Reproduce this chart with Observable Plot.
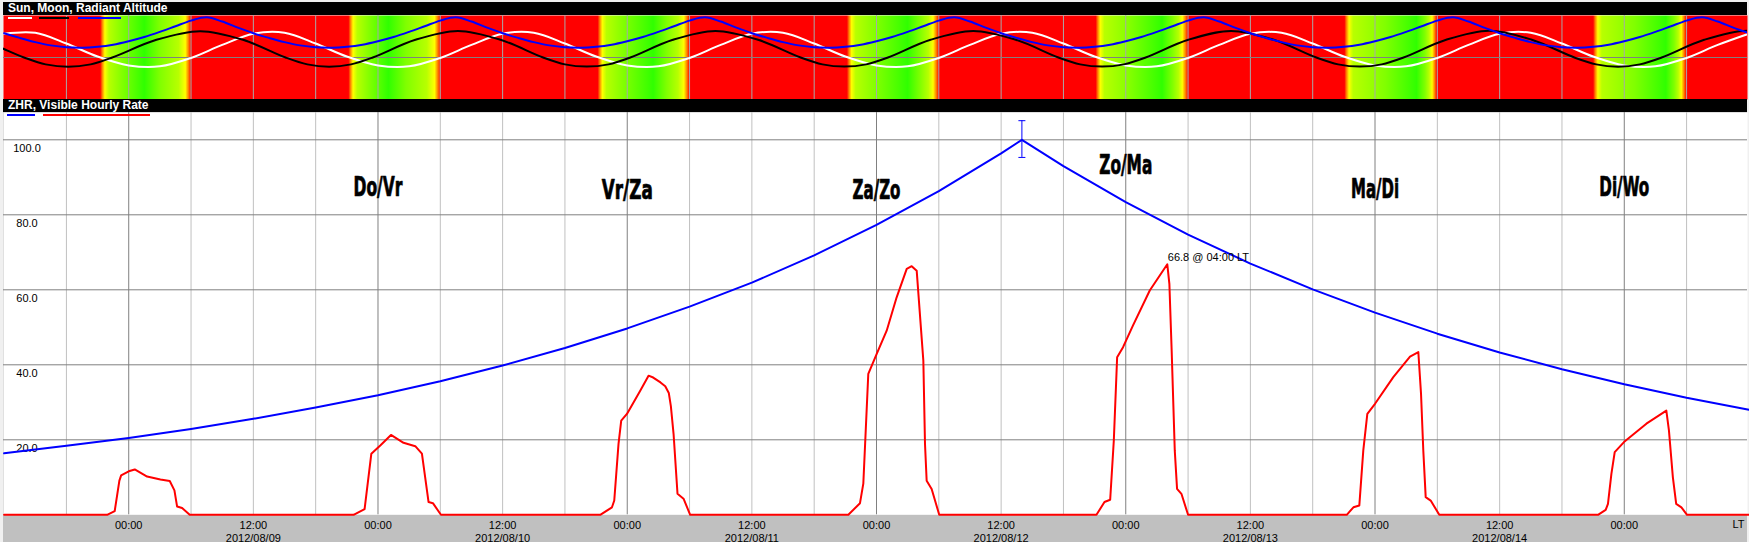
<!DOCTYPE html>
<html><head><meta charset="utf-8">
<script src="https://cdn.jsdelivr.net/npm/d3@7"></script>
<script src="https://cdn.jsdelivr.net/npm/@observablehq/plot@0.6"></script>
<style>
html,body{margin:0;padding:0;background:#f0f0f0;width:1749px;height:542px;overflow:hidden;font-family:"Liberation Sans",Arial,sans-serif;}
#wrap{position:absolute;left:3px;top:2px;width:1744px;height:540px;}
.bar{position:absolute;left:0;width:1744px;height:13px;background:#000;color:#fff;font-weight:bold;font-size:12px;line-height:13px;padding-left:5px;box-sizing:border-box;white-space:nowrap;}
.sw{position:absolute;height:2px;z-index:5;}
#topPanel{position:absolute;left:0;top:13px;}
#bottomPanel{position:absolute;left:0;top:110px;}
svg{display:block;overflow:visible;}
</style></head>
<body>
<div id="wrap">
  <div class="bar" style="top:0">Sun, Moon, Radiant Altitude</div>
  <div id="topPanel"></div>
  <div class="bar" style="top:97px">ZHR, Visible Hourly Rate</div>
  <div id="bottomPanel"></div>
  <div class="sw" style="left:5px;top:14.7px;width:24px;background:#fff"></div>
  <div class="sw" style="left:36px;top:14.7px;width:30px;background:#000"></div>
  <div class="sw" style="left:75px;top:14.7px;width:43px;background:#0000ff"></div>
  <div class="sw" style="left:4px;top:111.5px;width:28px;background:#0000ff"></div>
  <div class="sw" style="left:40px;top:111.5px;width:107px;background:#ff0000"></div>
</div>
<script>
// ---------- DATA ----------
const startTime = "2012-08-08T12:00";
const endTime = "2012-08-15T12:00";

// Sun altitude (deg), every 3 h from 2012-08-08 12:00
const sunAlt = [
  51,53,30,2,-17,-19,-1,27,
  51,53,30,2,-17,-19,-1,27,
  51,53,30,2,-17,-19,-1,27,
  51,53,30,2,-17,-19,-1,27,
  51,53,30,2,-17,-19,-1,27,
  51,53,30,2,-17,-19,-1,27,
  51,53,30,2,-17,-19,-1,27,
  51];

// Perseid radiant altitude (deg), every 1.5 h from 2012-08-08 12:00
const radiantAlt = [
  52,42,33,26,22,21,23,27.5,35,44,55,67,79,86,77,64,
  52,42,33,26,22,21,23,27.5,35,44,55,67,79,86,77,64,
  52,42,33,26,22,21,23,27.5,35,44,55,67,79,86,77,64,
  52,42,33,26,22,21,23,27.5,35,44,55,67,79,86,77,64,
  52,42,33,26,22,21,23,27.5,35,44,55,67,79,86,77,64,
  52,42,33,26,22,21,23,27.5,35,44,55,67,79,86,77,64,
  52,42,33,26,22,21,23,27.5,35,44,55,67,79,86,77,64,
  52];

// Moon altitude (deg) at read-off times
const moonTimes = [
  "2012-08-08T05:50","2012-08-08T09:55","2012-08-08T13:55","2012-08-08T16:00","2012-08-08T18:10","2012-08-08T20:20","2012-08-08T22:25","2012-08-09T02:40",
  "2012-08-09T06:54","2012-08-09T11:00","2012-08-09T15:06","2012-08-09T17:12","2012-08-09T19:18","2012-08-09T21:24","2012-08-09T23:30","2012-08-10T03:36",
  "2012-08-10T07:42","2012-08-10T11:48","2012-08-10T15:54","2012-08-10T18:00","2012-08-10T20:06","2012-08-10T22:12","2012-08-11T00:18","2012-08-11T04:24",
  "2012-08-11T08:30","2012-08-11T12:36","2012-08-11T16:42","2012-08-11T18:48","2012-08-11T20:54","2012-08-11T23:00","2012-08-12T01:06","2012-08-12T05:12",
  "2012-08-12T09:19","2012-08-12T13:25","2012-08-12T17:31","2012-08-12T19:37","2012-08-12T21:43","2012-08-12T23:49","2012-08-13T01:55","2012-08-13T06:01",
  "2012-08-13T10:09","2012-08-13T14:15","2012-08-13T18:21","2012-08-13T20:27","2012-08-13T22:33","2012-08-14T00:39","2012-08-14T02:45","2012-08-14T06:51",
  "2012-08-14T11:00","2012-08-14T15:06","2012-08-14T19:12","2012-08-14T21:18","2012-08-14T23:24","2012-08-15T01:30","2012-08-15T03:36","2012-08-15T07:42",
  "2012-08-15T11:52","2012-08-15T15:58"];
const moonAlt = [
  57,36,0,-14.7,-20,-14.7,0,38,
  56.5,38,0,-14.7,-19.7,-14.7,0,38,
  57,38,0,-14.7,-19.5,-14.7,0,38,
  57,38,0,-14.7,-19.5,-14.7,0,38,
  57,38,0,-14.7,-19.5,-14.7,0,38,
  57,38,0,-14.7,-19.5,-14.7,0,38,
  57.5,38,0,-14.7,-19.6,-14.7,0,38,
  57.5,38];

// Sky darkness stops per night (hours relative to midnight) -> level 0 (day) .. 5 (dark)
const skyNights = ["2012-08-09","2012-08-10","2012-08-11","2012-08-12","2012-08-13","2012-08-14","2012-08-15"];
const skyLevels = [0,1,2,3,4,5,4,3,2,1,0];
const skyHours = [
  [-2.75,-2.55,-2.3,-1.9,-0.6,1.5,3.0,4.8,5.45,5.75,6.0],
  [-2.85,-2.65,-2.4,-2.0,-0.8,1.0,2.7,4.7,5.45,5.75,6.05],
  [-2.85,-2.65,-2.4,-2.0,-0.3,2.5,3.8,4.9,5.45,5.75,6.0],
  [-2.85,-2.65,-2.4,-2.0,0.0,3.0,4.2,5.0,5.45,5.75,6.0],
  [-2.9,-2.7,-2.45,-2.05,0.5,3.5,4.5,5.1,5.45,5.75,6.0],
  [-2.95,-2.75,-2.5,-2.1,1.0,4.0,4.8,5.2,5.5,5.75,5.95],
  [-3.0,-2.8,-2.55,-2.15,1.0,4.0,4.8,5.2,5.5,5.75,5.97]];

// ZHR (blue)
const zhrTimes = [
  "2012-08-08T12:00","2012-08-08T18:00","2012-08-09T00:00","2012-08-09T06:00","2012-08-09T12:00","2012-08-09T18:00",
  "2012-08-10T00:00","2012-08-10T06:00","2012-08-10T12:00","2012-08-10T18:00","2012-08-11T00:00","2012-08-11T06:00",
  "2012-08-11T12:00","2012-08-11T18:00","2012-08-12T00:00","2012-08-12T06:00","2012-08-12T12:00","2012-08-12T14:00",
  "2012-08-12T18:00","2012-08-13T00:00","2012-08-13T06:00","2012-08-13T12:00","2012-08-13T18:00","2012-08-14T00:00",
  "2012-08-14T06:00","2012-08-14T12:00","2012-08-14T18:00","2012-08-15T00:00","2012-08-15T06:00","2012-08-15T12:00"];
const zhrValues = [16.4,18.4,20.5,22.9,25.6,28.6,31.9,35.6,39.8,44.5,49.7,55.5,61.9,69.2,77.3,86.3,96.4,100,
  93.0,83.4,74.7,67.0,60.1,53.9,48.3,43.3,38.8,34.8,31.2,28.0];
const zhrPeakTime = "2012-08-12T14:00";
const zhrPeakRange = [95.3, 105.1];

// Visible hourly rate (red), per night: [hours from midnight, rate]
const vhrNights = ["2012-08-09","2012-08-10","2012-08-11","2012-08-12","2012-08-13","2012-08-14","2012-08-15"];
const vhr0809 = [[-2.08,0],[-1.35,1.0],[-0.9,9.1],[-0.73,10.5],[0,11.6],[0.58,12.1],[1.77,10.2],[3.05,9.4],[3.95,9.0],[4.4,6.5],[4.66,2.2],[5.14,1.8],[5.87,0]];
const vhr0810 = [[-2.35,0],[-1.29,1.5],[-0.64,16.3],[0.22,18.5],[1.25,21.3],[2.46,19.2],[3.59,18.3],[4.23,16.3],[4.87,3.4],[5.29,3.1],[6.06,0]];
const vhr0811 = [[-2.6,0],[-1.47,2.0],[-1.25,3.8],[-0.84,18.9],[-0.58,25.1],[-0.03,26.9],[1.25,33.1],[2.05,37.1],[2.5,36.6],[3.2,35.3],[3.66,34.3],[4.0,32.5],[4.2,29.0],[4.46,21.6],[4.84,5.6],[5.42,4.3],[6.06,0]];
const vhr0812 = [[-2.71,0],[-1.59,3.1],[-1.27,8.3],[-0.79,37.6],[0.02,42.9],[0.98,49.1],[1.94,58.0],[2.91,65.6],[3.39,66.3],[3.87,65.1],[4.51,41.1],[4.67,18.9],[4.83,9.1],[5.31,6.9],[6.04,0]];
const vhr0813 = [[-2.82,0],[-2.05,3.4],[-1.5,4.0],[-1.15,19.8],[-0.83,42.0],[-0.26,44.7],[0.7,50.5],[2.31,59.8],[4.0,66.8],[4.2,61.6],[4.42,43.8],[4.72,17.1],[4.94,6.9],[5.36,5.6],[6.0,0]];
const vhr0814 = [[-2.72,0],[-2.08,2.0],[-1.51,2.5],[-1.13,17.1],[-0.74,26.9],[0,29.6],[1.76,36.7],[3.37,42.2],[4.17,43.4],[4.43,32.3],[4.65,17.1],[4.88,4.7],[5.36,3.8],[6.19,0]];
const vhr0815 = [[-2.53,0],[-1.79,1.3],[-1.57,2.9],[-1.24,10.9],[-0.92,16.7],[-0.03,19.4],[2.13,24.3],[3.57,26.9],[4.05,27.8],[4.3,22.5],[4.68,10.0],[5.0,2.9],[5.5,2.0],[6.04,0]];
const vhrPeak = {time: "2012-08-13T04:00", value: 66.8, label: "66.8 @ 04:00 LT"};

// Night labels (Dutch day pairs) at midnight, vertical position in ZHR units
const zoneLabels = ["Do/Vr","Vr/Za","Za/Zo","Zo/Ma","Ma/Di","Di/Wo"];
const zoneTimes = ["2012-08-10T00:00","2012-08-11T00:00","2012-08-12T00:00","2012-08-13T00:00","2012-08-14T00:00","2012-08-15T00:00"];
const zoneY = [85.1, 84.3, 84.3, 90.8, 84.6, 85.1];

const yTicks = [20, 40, 60, 80, 100];

// ---------- BUILD ----------
const T = s => new Date(s + ":00Z");
const T0 = T(startTime), T1 = T(endTime);
const HOUR = 3600e3;
const sun = sunAlt.map((v, i) => ({t: new Date(+T0 + i * 3 * HOUR), v}));
const radiant = radiantAlt.map((v, i) => ({t: new Date(+T0 + i * 1.5 * HOUR), v}));
const moon = moonTimes.map((s, i) => ({t: T(s), v: moonAlt[i]}));
const zhr = zhrTimes.map((s, i) => ({t: T(s), v: zhrValues[i]}));
const nightsData = [vhr0809, vhr0810, vhr0811, vhr0812, vhr0813, vhr0814, vhr0815];
const vhr = [{t: T0, v: 0}];
nightsData.forEach((arr, k) => {
  const mid = T(vhrNights[k] + "T00:00");
  arr.forEach(([h, v]) => vhr.push({t: new Date(+mid + h * HOUR), v}));
});
vhr.push({t: T1, v: 0});

const grid6 = d3.utcHour.every(6).range(T("2012-08-08T18:00"), T1);
const gridMid = grid6.filter(d => d.getUTCHours() === 0);
const gridOther = grid6.filter(d => d.getUTCHours() !== 0);
const labelTimes = d3.utcHour.every(12).range(T("2012-08-09T00:00"), T("2012-08-15T06:00"));
const fmtTick = d => d.getUTCHours() === 0 ? "00:00" : "12:00\n" + d3.utcFormat("%Y/%m/%d")(d);

const xScale = {type: "utc", domain: [T0, T1], range: [0.6, 1745.4], axis: null};
const levelColors = ["#ff0000", "#ff8000", "#ffff00", "#b8ff00", "#80ff00", "#30ff00"];
const FONT = '"Liberation Sans", Arial, sans-serif';
const zoneLabelWidths = [49, 51, 48, 53, 48, 50];

// Top panel: sun / moon / radiant altitude over sky condition
const topPlot = Plot.plot({
  width: 1744, height: 84, margin: 0,
  x: xScale,
  y: {domain: [-90, 90], range: [84, 0], axis: null},
  marks: [
    Plot.frame({fill: "url(#sky)", stroke: "none"}),
    Plot.ruleX(grid6, {stroke: "#a8a8a8"}),
    Plot.ruleY([0], {stroke: "#808080"}),
    Plot.line(sun, {x: "t", y: "v", stroke: "#ffffff", strokeWidth: 2, curve: "catmull-rom", clip: true}),
    Plot.line(moon, {x: "t", y: "v", stroke: "#000000", strokeWidth: 2, curve: "catmull-rom", clip: true}),
    Plot.line(radiant, {x: "t", y: "v", stroke: "#0000ff", strokeWidth: 2, curve: "catmull-rom", clip: true})
  ]
});
// sky gradient positioned with the x scale
{
  const xs = topPlot.scale("x");
  const ns = "http://www.w3.org/2000/svg";
  const defs = document.createElementNS(ns, "defs");
  const lg = document.createElementNS(ns, "linearGradient");
  lg.setAttribute("id", "sky");
  lg.setAttribute("gradientUnits", "userSpaceOnUse");
  const gx1 = xs.apply(T0), gx2 = xs.apply(T1);
  lg.setAttribute("x1", gx1); lg.setAttribute("x2", gx2);
  lg.setAttribute("y1", 0); lg.setAttribute("y2", 0);
  skyNights.forEach((n, k) => {
    const mid = T(n + "T00:00");
    skyHours[k].forEach((h, j) => {
      const st = document.createElementNS(ns, "stop");
      const off = (xs.apply(new Date(+mid + h * HOUR)) - gx1) / (gx2 - gx1);
      st.setAttribute("offset", off.toFixed(5));
      st.setAttribute("stop-color", levelColors[skyLevels[j]]);
      lg.appendChild(st);
    });
  });
  defs.appendChild(lg);
  topPlot.insertBefore(defs, topPlot.firstChild);
}
document.getElementById("topPanel").appendChild(topPlot);

// Bottom panel: ZHR and visible hourly rate
const capSymbol = {draw(ctx) { ctx.moveTo(-3.5, 0); ctx.lineTo(3.5, 0); }};
const bottomPlot = Plot.plot({
  width: 1744, height: 430,
  marginTop: 0, marginBottom: 27.7, marginLeft: 0, marginRight: 0,
  style: {background: "#c0c0c0", fontFamily: FONT, fontSize: "11px", color: "#000"},
  x: xScale,
  y: {domain: [0, 107.28], axis: null},
  marks: [
    Plot.frame({fill: "#ffffff", stroke: "none"}),
    Plot.ruleX(gridOther, {stroke: "#c0c0c0"}),
    Plot.ruleX(gridMid, {stroke: "#808080"}),
    Plot.ruleY(yTicks, {stroke: "#808080"}),
    Plot.text(yTicks, {y: d => d, text: d => d.toFixed(1), frameAnchor: "left", dx: 23.5, dy: 12.4,
      lineAnchor: "bottom", textAnchor: "middle", fill: "#000", fontSize: 11}),
    Plot.line(zhr, {x: "t", y: "v", stroke: "#0000ff", strokeWidth: 2}),
    Plot.ruleX([zhrPeakTime], {x: d => T(d), y1: zhrPeakRange[0], y2: zhrPeakRange[1], stroke: "#0000ff", strokeWidth: 1}),
    Plot.dot(zhrPeakRange, {x: () => T(zhrPeakTime), y: d => d, symbol: capSymbol, stroke: "#0000ff", fill: "none", strokeWidth: 1}),
    Plot.line(vhr, {x: "t", y: "v", stroke: "#ff0000", strokeWidth: 2}),
    Plot.text(zoneLabels, {x: (d, i) => T(zoneTimes[i]), y: (d, i) => zoneY[i], text: d => d,
      lineAnchor: "bottom", textAnchor: "middle", fill: "#000", stroke: "#000", strokeWidth: 0.7,
      fontSize: 26, fontWeight: "bold",
      fontFamily: '"DejaVu Sans Condensed", "DejaVu Sans", sans-serif'}),
    Plot.text([vhrPeak], {x: d => T(d.time), y: "value", text: "label", textAnchor: "start",
      lineAnchor: "bottom", dx: 0.5, dy: -3.5, fill: "#000", fontSize: 11}),
    Plot.text(labelTimes, {x: d => d, text: fmtTick, frameAnchor: "bottom", lineAnchor: "top",
      dy: 4.9, lineHeight: 1.18, textAnchor: "middle", fill: "#000", fontSize: 11}),
    Plot.text(["LT"], {frameAnchor: "bottom-right", text: d => d, lineAnchor: "top", dy: 4.9, dx: -3,
      textAnchor: "end", fill: "#000", fontSize: 11})
  ]
});
// condense the night labels to the narrow poster-style width of the original
bottomPlot.querySelectorAll("text").forEach(el => {
  const k = zoneLabels.indexOf(el.textContent);
  if (k >= 0) {
    el.setAttribute("textLength", zoneLabelWidths[k]);
    el.setAttribute("lengthAdjust", "spacingAndGlyphs");
  }
});
document.getElementById("bottomPanel").appendChild(bottomPlot);
</script>
</body></html>
